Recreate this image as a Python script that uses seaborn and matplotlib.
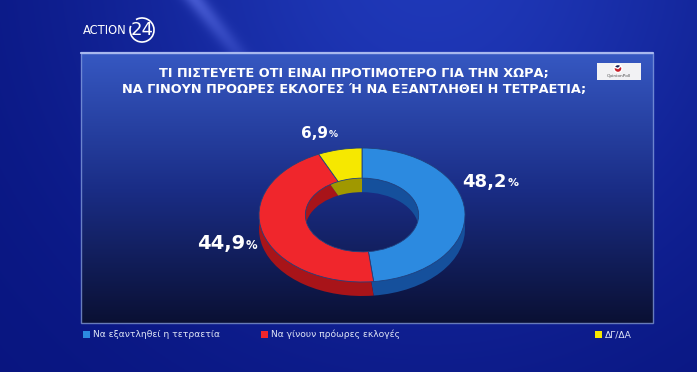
import numpy as np
import matplotlib
matplotlib.use("Agg")
import matplotlib.pyplot as plt
import matplotlib.patches as mpatches
import seaborn as sns

# data
labels = ["Να εξαντληθεί η τετραετία", "Να γίνουν πρόωρες εκλογές", "ΔΓ/ΔΑ"]
values = [48.2, 44.9, 6.9]
value_text = ["48,2", "44,9", "6,9"]
top_colors = ["#2c8ae0", "#f0262c", "#f6e800"]
side_colors = ["#15509c", "#a81419", "#a09800"]
title_lines = ["ΤΙ ΠΙΣΤΕΥΕΤΕ ΟΤΙ ΕΙΝΑΙ ΠΡΟΤΙΜΟΤΕΡΟ ΓΙΑ ΤΗΝ ΧΩΡΑ;",
               "ΝΑ ΓΙΝΟΥΝ ΠΡΟΩΡΕΣ ΕΚΛΟΓΕΣ Ή ΝΑ ΕΞΑΝΤΛΗΘΕΙ Η ΤΕΤΡΑΕΤΙΑ;"]

sns.set_theme(style="white")
plt.rcParams['font.family'] = ['DejaVu Sans']

W, H = 697, 372
fig = plt.figure(figsize=(W / 100, H / 100), dpi=100)


def px_box(l, t, w, h):
    return [l / W, 1 - (t + h) / H, w / W, h / H]


def hex_rgb(c):
    c = c.lstrip("#")
    return np.array([int(c[i:i + 2], 16) / 255 for i in (0, 2, 4)])


# background + panel as one image
yy, xx = np.mgrid[0:H, 0:W].astype(float)
dark = hex_rgb("#08147e")
light = hex_rgb("#1f38b8")
w = np.exp(-((xx - 430) ** 2 + (yy + 40) ** 2) / (2 * 240 ** 2))
img = dark[None, None, :] * (1 - w[..., None]) + light[None, None, :] * w[..., None]
# faint light streak top-left
beam = np.exp(-((xx - 195 - 0.8 * yy) ** 2) / (2 * 8 ** 2)) * np.clip(1 - yy / 90, 0, 1)
img = img + 0.18 * beam[..., None]

# panel gradient
pl, pr, pt, pb = 81, 653, 53, 323
t = np.clip((yy - pt) / (pb - pt), 0, 1)
c_top = hex_rgb("#3658c2")
c_mid = hex_rgb("#1a2d86")
c_bot = hex_rgb("#0a1033")
pan = np.where(t[..., None] < 0.5,
               c_top * (1 - 2 * t[..., None]) + c_mid * (2 * t[..., None]),
               c_mid * (2 - 2 * t[..., None]) + c_bot * (2 * t[..., None] - 1))
inside = (xx >= pl) & (xx <= pr) & (yy >= pt) & (yy <= pb)
img[inside] = pan[inside]
img = np.clip(img, 0, 1)

bg = fig.add_axes([0, 0, 1, 1])
bg.imshow(img, extent=(0, W, H, 0), aspect="auto", zorder=0)
bg.set_xlim(0, W)
bg.set_ylim(H, 0)
bg.axis("off")

bg.add_patch(mpatches.Rectangle((pl, pt), pr - pl, pb - pt, fill=False,
                                edgecolor="#7f97dc", lw=1.0, alpha=0.8, zorder=2))
bg.plot([pl, pr], [pt, pt], color="#a8b8ee", lw=1.6, zorder=2)

# ACTION 24 logo
bg.text(83, 30, "ACTION", color="white", fontsize=8.3, va="center", ha="left",
        zorder=3)
bg.text(142, 30, "24", color="white", fontsize=13, va="center", ha="center", zorder=3)
bg.add_patch(mpatches.Arc((142, 30), 24, 24, theta1=-120, theta2=200,
                          color="white", lw=1.2, zorder=3))

# OpinionPoll logo
bg.add_patch(mpatches.Rectangle((597, 63), 44, 17, facecolor="#f2f2f4",
                                edgecolor="none", zorder=3))
bg.add_patch(mpatches.Circle((618, 68.5), 4, facecolor="#c8202a", zorder=4))
bg.add_patch(mpatches.Wedge((618, 68.5), 4, 200, 320, facecolor="#1a2050", zorder=4))
bg.text(619, 76.5, "OpinionPoll", fontsize=3.2, color="#555555", ha="center",
        va="center", zorder=4)

# title
for i, line in enumerate(title_lines):
    bg.text(354, 73 + 17 * i, line, color="white", fontsize=9.3, fontweight="bold",
            ha="center", va="center", zorder=3)

# donut: side layer then top face, on an axes stretched to an ellipse
cx, cy, a, b = 362, 215, 103, 67
depth = 14
al, at, aw, ah = 250, 138, 224, 172
pie_ax = fig.add_axes(px_box(al, at, aw, ah))
pie_ax.pie(values, colors=side_colors, startangle=90, counterclock=False,
           center=(0, -depth / b), radius=1,
           wedgeprops=dict(width=0.45, linewidth=0))
pie_ax.pie(values, colors=top_colors, startangle=90, counterclock=False,
           center=(0, 0), radius=1,
           wedgeprops=dict(width=0.45, linewidth=0.6, edgecolor="#20407e"))
pie_ax.set_aspect("auto")
pie_ax.set_xlim((al - cx) / a, (al + aw - cx) / a)
pie_ax.set_ylim((cy - at - ah) / b, (cy - at) / b)
pie_ax.axis("off")
pie_ax.patch.set_alpha(0)

# value labels (number right edge, centre y, size)
label_pos = [(507, 182, 13), (245, 244, 14), (328, 133, 11)]
for txt, (x, y, fs) in zip(value_text, label_pos):
    bg.text(x, y, txt, color="white", fontsize=fs, fontweight="bold",
            ha="right", va="center", zorder=5)
    bg.text(x + 1, y + 1.5, "%", color="white", fontsize=fs * 0.6, fontweight="bold",
            ha="left", va="center", zorder=5)

# legend
leg_x = [83, 261, 595]
for lab, col, x in zip(labels, top_colors, leg_x):
    bg.add_patch(mpatches.Rectangle((x, 331), 7, 7, facecolor=col, edgecolor="none", zorder=3))
    bg.text(x + 10, 334.5, lab, color="#dfe5f6", fontsize=6.6, ha="left", va="center", zorder=3)

fig.savefig("out.png", dpi=100)
